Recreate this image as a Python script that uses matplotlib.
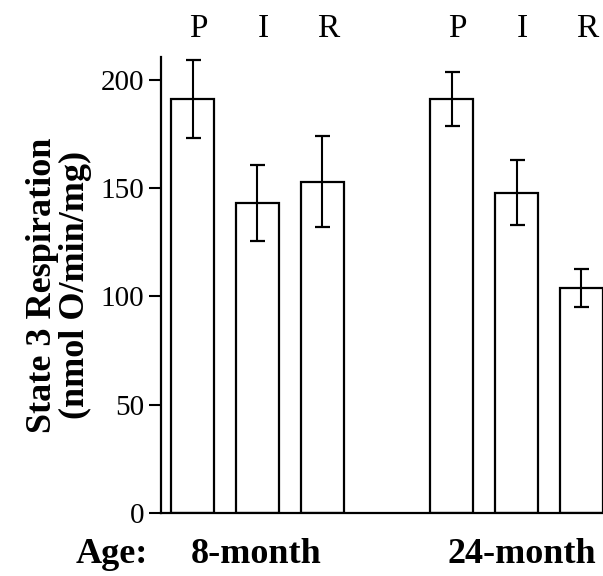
import numpy as np
import matplotlib
matplotlib.use("Agg")
import matplotlib.pyplot as plt
import matplotlib.transforms as transforms

plt.rcParams['font.family'] = ['Liberation Serif', 'DejaVu Serif']

# data
treatments = ['P', 'I', 'R']
ages = ['8-month', '24-month']
resp_8 = [191, 143, 153]
err_8 = [18, 17.5, 21]
resp_24 = [191, 148, 104]
err_24 = [12.5, 15, 8.8]
yticks = [0, 50, 100, 150, 200]

x8 = np.arange(3)
x24 = np.arange(3) + 4
xs = np.concatenate([x8, x24])
vals = resp_8 + resp_24
errs = err_8 + err_24

fig = plt.figure(figsize=(6.03, 5.76), dpi=100)
ax = fig.add_axes([0.267, 0.1094, 0.733, 0.7917])

ax.bar(xs, vals, width=0.667, color='white', edgecolor='k', linewidth=1.6, zorder=2)
ax.errorbar(xs, vals, yerr=errs, fmt='none', ecolor='k', elinewidth=1.5,
            capsize=5.4, capthick=1.6, zorder=3)

ax.set_xlim(-0.488, 6.335)
ax.set_ylim(0, 210.6)
ax.set_yticks(yticks)
ax.set_xticks([])
ax.tick_params(axis='y', direction='out', length=8.6, width=1.5, pad=3.6, labelsize=21)
for s in ['top', 'right']:
    ax.spines[s].set_visible(False)
ax.spines['left'].set_linewidth(1.6)
ax.spines['bottom'].set_linewidth(1.6)

# treatment letters above the bars
trans = transforms.blended_transform_factory(ax.transData, fig.transFigure)
for x, lab in zip(xs, treatments + treatments):
    ax.text(x + 0.09, 0.95, lab, transform=trans, ha='center', va='center',
            fontsize=24, clip_on=False)

# age labels under the groups
fig.text(112 / 603, 0.0226, 'Age:', ha='center', va='baseline', fontsize=26, fontweight='bold')
for x, lab in zip([0.98, 5.08], ages):
    ax.text(x, 0.0226, lab, transform=trans, ha='center', va='baseline',
            fontsize=26, fontweight='bold', clip_on=False)

# y label, two lines
fig.text(43 / 603, 0.505, 'State 3 Respiration', rotation=90, ha='center', va='center',
         fontsize=26, fontweight='bold')
fig.text(75 / 603, 0.505, '(nmol O/min/mg)', rotation=90, ha='center', va='center',
         fontsize=26, fontweight='bold')

fig.savefig('out.png', dpi=100)
